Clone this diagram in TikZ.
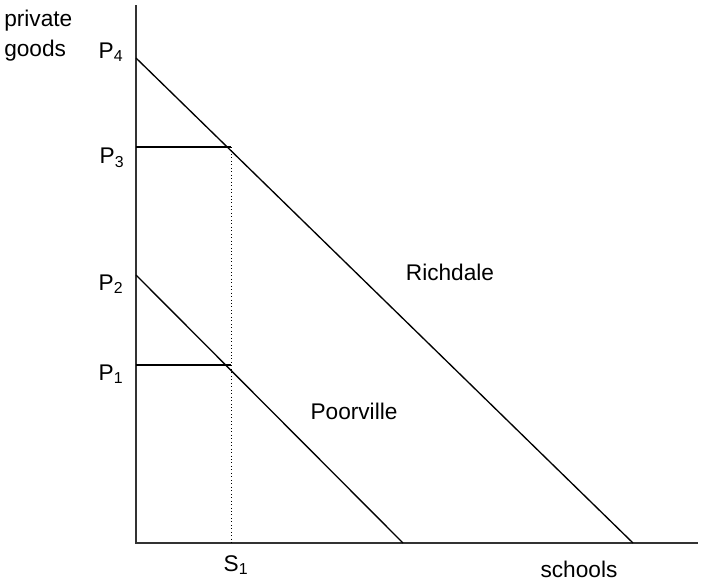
\documentclass[tikz,border=0pt]{standalone}
\usepackage{fontspec}
\setmainfont{Liberation Sans}
\usetikzlibrary{positioning,calc}

\tikzset{
  axisline/.style={line width=1.1pt,black!80},
  budget/.style={line width=1pt,black},
  guide/.style={line width=0.9pt,black},
  drop/.style={line width=0.6pt,dotted,black},
  lbl/.style={inner sep=0pt,font=\fontsize{17}{22.5}\selectfont}
}

\begin{document}
\begin{tikzpicture}[x=0.75pt,y=-0.75pt]
  \useasboundingbox (0,0) rectangle (702,582);
  % axes
  \coordinate (origin) at (136,543);
  \coordinate (ytop) at (136,5);
  \coordinate (xend) at (698,543);
  \draw[axisline] (ytop) -- (origin) -- (xend);
  % budget lines
  \coordinate (p4) at (136,58);
  \coordinate (rich0) at (633,543);
  \coordinate (p2) at (136,275);
  \coordinate (poor0) at (403,543);
  \draw[budget] (p4) -- (rich0);
  \draw[budget] (p2) -- (poor0);
  % chosen bundles at S1
  \coordinate (p3) at (136,147);
  \coordinate (rich1) at (231,147);
  \coordinate (p1) at (136,365);
  \coordinate (poor1) at (231,365);
  \coordinate (s1) at (231,543);
  \draw[guide] (p3) -- (rich1);
  \draw[guide] (p1) -- (poor1);
  \draw[drop] (rich1) -- (s1);
  % labels
  \node[lbl,align=left,anchor=west] (ylab) at (4,36) {private\\goods};
  \node[lbl] (lp4) at (111,52) {P\textsubscript{4}};
  \node[lbl] (lp3) at (112,158) {P\textsubscript{3}};
  \node[lbl] (lp2) at (111,284) {P\textsubscript{2}};
  \node[lbl] (lp1) at (111,374) {P\textsubscript{1}};
  \node[lbl] (ls1) at (236,565) {S\textsubscript{1}};
  \node[lbl] (xlab) at (579,569) {schools};
  \node[lbl] (rich) at (450,272) {Richdale};
  \node[lbl] (poor) at (354,411) {Poorville};
\end{tikzpicture}
\end{document}
